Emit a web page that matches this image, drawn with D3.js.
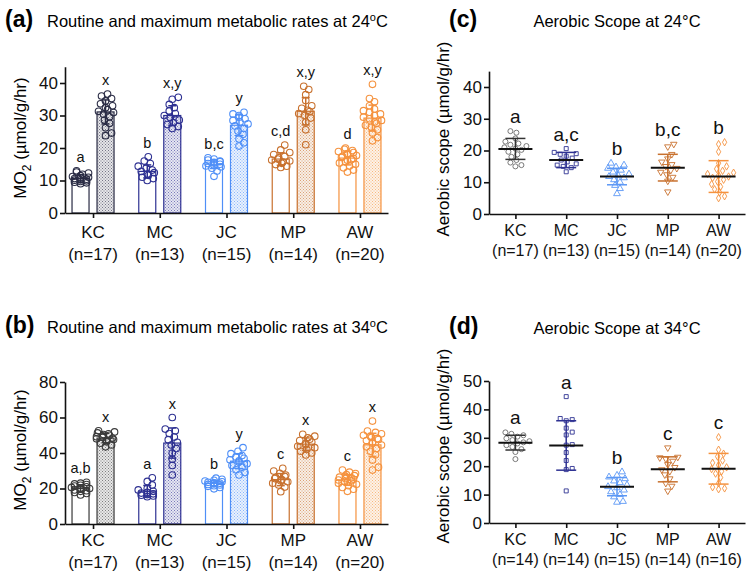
<!DOCTYPE html>
<html><head><meta charset="utf-8">
<script src="https://cdn.jsdelivr.net/npm/d3@7"></script>
<style>body{margin:0;background:#fff}svg{font-family:"Liberation Sans",Arial,sans-serif}</style>
</head><body><svg id="c" width="754" height="581"></svg>
<script>
// ---------- data ----------
const categories = ["KC","MC","JC","MP","AW"];
const nLabelsABC = ["(n=17)","(n=13)","(n=15)","(n=14)","(n=20)"];
const nLabelsD   = ["(n=14)","(n=14)","(n=15)","(n=14)","(n=16)"];
const ticksA = [0,10,20,30,40];
const ticksB = [0,20,40,60,80];
const ticksC = [0,10,20,30,40];
const ticksD = [0,10,20,30,40,50];

// panel a: routine (open) and maximum (patterned) MO2 at 24C
const a_routine_pts = [
  [9.0,9.3,9.5,9.7,9.9,10.1,10.2,10.4,10.6,10.8,11.0,11.2,11.5,11.9,12.3,12.6,13.0],
  [10.0,10.6,11.0,11.6,12.0,12.4,12.8,13.2,13.8,14.4,15.2,16.0,17.3],
  [11.3,12.9,13.8,14.2,14.5,14.8,15.0,15.2,15.4,15.6,15.8,16.0,16.3,16.6,17.0],
  [14.0,14.4,14.9,15.3,15.7,16.0,16.3,16.6,17.0,17.4,18.0,18.6,19.4,20.9],
  [12.6,13.2,13.9,14.5,15.0,15.4,15.8,16.2,16.5,16.8,17.1,17.4,17.7,18.0,18.3,18.6,18.9,19.2,19.6,20.0]
];
const a_routine_mean = [10.6,12.8,15.0,16.6,16.9];
const a_routine_sd   = [1.2,2.0,1.3,1.9,2.1];
const a_max_pts = [
  [23.8,24.6,26.2,27.6,28.6,29.6,30.4,30.9,31.3,31.8,32.4,33.0,33.6,34.5,35.2,36.0,36.6],
  [26.0,26.6,27.2,27.8,28.6,29.4,30.0,30.6,31.4,32.4,33.4,35.0,35.6],
  [20.6,21.6,22.8,24.2,25.2,26.0,26.8,27.4,28.0,28.5,29.0,29.5,30.0,30.5,31.0],
  [21.0,25.6,28.0,29.2,30.0,30.6,31.2,31.6,32.2,33.0,34.6,36.4,38.0,39.0],
  [22.2,23.2,24.6,25.6,26.4,27.0,27.6,28.0,28.5,29.0,29.5,30.0,30.5,31.0,31.5,32.0,33.0,34.2,35.2,39.6]
];
const a_max_mean = [31.1,30.0,27.0,31.3,29.2];
const a_max_sd   = [3.7,3.0,3.2,4.2,4.0];
const a_routine_letters = ["a","b","b,c","c,d","d"];
const a_max_letters     = ["x","x,y","y","x,y","x,y"];

// panel b: routine and maximum MO2 at 34C
const b_routine_pts = [
  [16.4,17.2,17.8,18.4,18.8,19.2,19.6,20.0,20.3,20.6,21.0,21.4,21.8,22.2,22.6,23.0,23.5],
  [15.4,15.8,16.2,16.6,17.0,17.4,17.8,18.4,19.2,20.0,22.0,24.0,26.0],
  [19.8,20.6,21.2,21.6,22.0,22.3,22.6,22.9,23.2,23.5,23.8,24.2,24.6,25.2,25.8],
  [18.2,20.8,22.0,23.0,23.8,24.4,25.0,25.6,26.2,26.8,27.6,28.6,29.8,31.4],
  [18.4,19.6,20.6,21.6,22.4,23.0,23.6,24.0,24.4,24.8,25.2,25.6,26.0,26.4,26.8,27.2,27.8,28.4,29.2,30.4]
];
const b_routine_mean = [20.1,18.5,22.9,25.0,24.8];
const b_routine_sd   = [2.0,3.2,1.7,3.4,3.0];
const b_max_pts = [
  [43.5,44.5,45.5,46.3,47.0,47.6,48.0,48.4,48.8,49.2,49.6,50.0,50.4,50.8,51.3,51.9,52.5],
  [27.6,33.0,36.5,40.0,42.5,44.5,46.0,47.5,49.0,51.0,52.5,53.5,60.0],
  [27.6,29.0,30.5,32.0,33.0,34.0,35.0,35.6,36.2,37.0,37.8,38.6,39.6,41.0,43.0],
  [38.9,40.0,41.0,42.0,43.0,43.8,44.6,45.4,46.2,47.0,47.8,48.6,49.5,50.5],
  [30.4,32.0,36.0,39.0,41.0,42.5,43.5,44.5,45.5,46.2,47.0,47.6,48.2,48.8,49.4,50.0,50.8,51.6,52.4,58.0]
];
const b_max_mean = [48.4,45.6,35.4,45.0,44.6];
const b_max_sd   = [2.6,8.5,4.2,3.5,6.5];
const b_routine_letters = ["a,b","a","b","c","c"];
const b_max_letters     = ["x","x","y","x","x"];

// panel c: aerobic scope at 24C
const c_pts = [
  [15.0,15.4,16.2,17.0,18.0,18.8,19.6,20.2,20.6,21.0,21.4,21.8,22.2,22.8,23.8,25.6,26.1],
  [13.3,14.6,15.0,15.4,15.8,16.4,17.0,17.6,18.2,18.8,19.0,19.4,20.6],
  [6.4,8.0,9.0,10.0,10.8,11.4,11.8,12.2,12.6,13.2,13.8,14.4,14.8,15.4,16.0],
  [7.0,10.4,11.6,12.4,13.2,13.8,14.4,15.0,15.6,16.4,17.4,18.8,21.2,22.0],
  [5.0,5.6,6.8,7.8,8.6,9.4,10.2,10.8,11.4,11.8,12.2,12.6,13.0,13.6,14.2,15.0,16.0,19.6,22.0,22.6]
];
const c_mean = [20.5,17.0,11.8,14.6,11.8];
const c_sd   = [3.3,2.4,2.6,4.2,5.0];
const c_letters = ["a","a,c","b","b,c","b"];

// panel d: aerobic scope at 34C
const d_pts = [
  [22.5,25.0,26.0,26.8,27.4,28.0,28.4,28.8,29.2,29.8,30.4,30.9,31.4,31.9],
  [11.3,18.8,19.2,22.0,24.8,27.4,27.6,31.0,32.0,33.4,36.0,36.4,36.8,44.5],
  [7.3,7.6,9.2,10.0,11.0,11.6,12.4,12.8,13.4,14.2,14.8,15.6,16.2,16.8,18.0],
  [11.3,13.0,14.0,15.6,17.0,18.2,18.8,19.6,20.6,21.8,22.6,23.0,23.2,26.5],
  [11.9,12.2,12.6,14.0,16.0,17.4,18.2,19.0,19.6,20.4,21.2,22.0,23.4,24.4,25.8,30.2]
];
const d_mean = [28.3,27.3,12.8,18.9,19.1];
const d_sd   = [2.6,8.7,3.2,4.4,5.4];
const d_letters = ["a","a","b","c","c"];

// ---------- styles ----------
const colBar = ["#2a2c45","#2e3192","#4f8ff7","#c8712e","#f5923e"];
const colBarB = ["#3a3a3a","#2e3192","#4f8ff7","#c8712e","#f5923e"];
const colScat = ["#6b6b6b","#2e3192","#5b97f5","#c8712e","#f5923e"];
const shapes = [d3.symbolCircle, d3.symbolSquare, d3.symbolTriangle, "tri-down", d3.symbolDiamond];

const svg = d3.select("#c");
const defs = svg.append("defs");
function patternFor(col, id) {
  const p = defs.append("pattern").attr("id", id).attr("patternUnits","userSpaceOnUse")
    .attr("width",3).attr("height",3);
  p.append("rect").attr("width",3).attr("height",3).attr("fill","#fff");
  p.append("rect").attr("x",0).attr("y",0).attr("width",1).attr("height",1).attr("fill",col).attr("opacity",0.6);
  p.append("rect").attr("x",1.5).attr("y",1.5).attr("width",1).attr("height",1).attr("fill",col).attr("opacity",0.6);
  p.append("rect").attr("x",0).attr("y",0).attr("width",3).attr("height",3).attr("fill",col).attr("opacity",0.12);
  return "url(#"+id+")";
}

function swarm(vals, y, r, maxW) {
  const placed = [];
  const out = new Array(vals.length);
  const order = vals.map((v,i)=>i).sort((a,b)=>vals[a]-vals[b]);
  const d2 = (2*r*0.85)**2;
  for (const i of order) {
    const py = y(vals[i]);
    let bestCnt = 1e9, bestOff = 0;
    for (let k=0;k<=2*maxW;k++) {
      const off = k===0 ? 0 : (k%2 ? (k+1)/2 : -k/2);
      let cnt = 0;
      for (const p of placed) { const dx=off-p.x, dy=py-p.y; if (dx*dx+dy*dy<d2) cnt++; }
      if (cnt===0) { bestOff = off; bestCnt = 0; break; }
      if (cnt<bestCnt) { bestCnt=cnt; bestOff=off; }
    }
    placed.push({x:bestOff,y:py});
    out[i] = {x:bestOff,y:py};
  }
  return out;
}

function titleBlock(letter, lx, text, tx, ty, anchor, degree) {
  svg.append("text").attr("x",lx).attr("y",ty).attr("font-size",23).attr("font-weight","bold").text(letter);
  const t = svg.append("text").attr("x",tx).attr("y",ty).attr("font-size",16.5).attr("text-anchor",anchor);
  if (degree) {
    t.append("tspan").text(text);
    t.append("tspan").attr("font-size",11).attr("dy",-6).text("o");
    t.append("tspan").attr("dy",6).text("C");
  } else t.text(text);
}

function yLabel(x, y, parts) {
  const t = svg.append("text").attr("transform",`translate(${x},${y}) rotate(-90)`)
    .attr("text-anchor","middle").attr("font-size",17);
  parts(t);
}

function axes(x, y, ticks, x0, y0, nLabels, lab1, lab2, tickFont, labFont) {
  const ya = svg.append("g").attr("transform",`translate(${x0},0)`)
    .call(d3.axisLeft(y).tickValues(ticks).tickSize(5).tickSizeOuter(0).tickPadding(2));
  ya.selectAll("text").attr("font-size",tickFont).attr("fill","#111").attr("font-family","Liberation Sans, Arial, sans-serif");
  ya.selectAll("line,path").attr("stroke","#111").attr("stroke-width",1.6);
  const xa = svg.append("g").attr("transform",`translate(0,${y0})`)
    .call(d3.axisBottom(x).tickSize(5).tickSizeOuter(0).tickFormat(""));
  xa.selectAll("line,path").attr("stroke","#111").attr("stroke-width",1.6);
  categories.forEach((c,i)=>{
    svg.append("text").attr("x",x(c)).attr("y",lab1).attr("text-anchor","middle").attr("font-size",labFont).attr("fill","#111").text(c);
    svg.append("text").attr("x",x(c)).attr("y",lab2).attr("text-anchor","middle").attr("font-size",labFont).attr("fill","#111").text(nLabels[i]);
  });
}

function barPanel(cfg) {
  const x = d3.scalePoint().domain(categories).range([cfg.x0, cfg.x1]).padding(0.42);
  const y = d3.scaleLinear().domain([0, cfg.ymax]).range([cfg.y0, cfg.ytop]);
  const bw = 17, off = 12.5;
  const series = [
    {pts:cfg.rp, mean:cfg.rm, sd:cfg.rs, letters:cfg.rl, dx:-off, pat:false},
    {pts:cfg.mp, mean:cfg.mm, sd:cfg.ms, letters:cfg.ml, dx:off, pat:true}
  ];
  series.forEach((s)=>{
    categories.forEach((c,i)=>{
      const col = cfg.cols[i];
      const cx = x(c)+s.dx;
      const m = s.mean[i], sd = s.sd[i];
      svg.append("rect").attr("x",cx-bw/2).attr("y",y(m)).attr("width",bw)
        .attr("height",y(0)-y(m))
        .attr("fill", s.pat ? patternFor(col, `p${cfg.id}${i}`) : "#fff")
        .attr("stroke",col).attr("stroke-width",1.2);
      const sw = swarm(s.pts[i], y, 3.4, 9);
      s.pts[i].forEach((v,j)=>{
        svg.append("circle").attr("cx",cx+sw[j].x).attr("cy",sw[j].y).attr("r",3.3)
          .attr("fill","none").attr("stroke",col).attr("stroke-width",1.1);
      });
      const g = svg.append("g").attr("stroke",col).attr("stroke-width",1.5);
      g.append("line").attr("x1",cx).attr("x2",cx).attr("y1",y(m-sd)).attr("y2",y(m+sd));
      g.append("line").attr("x1",cx-4).attr("x2",cx+4).attr("y1",y(m+sd)).attr("y2",y(m+sd));
      g.append("line").attr("x1",cx-4).attr("x2",cx+4).attr("y1",y(m-sd)).attr("y2",y(m-sd));
      const top = Math.min(y(d3.max(s.pts[i])), y(m+sd));
      svg.append("text").attr("x",cx).attr("y",top-9).attr("text-anchor","middle")
        .attr("font-size",14.5).attr("fill","#111").text(s.letters[i]);
    });
  });
  axes(x, y, cfg.ticks, cfg.x0, cfg.y0, nLabelsABC, cfg.lab1, cfg.lab2, 17, 17);
}

function scatterPanel(cfg) {
  const x = d3.scalePoint().domain(categories).range([cfg.x0, cfg.x1]).padding(0.52);
  const y = d3.scaleLinear().domain([0, cfg.ymax]).range([cfg.y0, cfg.ytop]);
  categories.forEach((c,i)=>{
    const col = colScat[i];
    const cx = x(c);
    const sw = swarm(cfg.pts[i], y, 3.4, 15);
    cfg.pts[i].forEach((v,j)=>{
      const px = cx+sw[j].x, py = sw[j].y;
      let path;
      if (shapes[i]==="tri-down") path = d3.symbol(d3.symbolTriangle, 18)();
      else path = d3.symbol(shapes[i], shapes[i]===d3.symbolSquare?16:(shapes[i]===d3.symbolDiamond?16:20))();
      svg.append("path").attr("d",path)
        .attr("transform",`translate(${px},${py})` + (shapes[i]==="tri-down"?" rotate(180)":""))
        .attr("fill","none").attr("stroke",col).attr("stroke-width",0.9);
    });
    const m = cfg.mean[i], s = cfg.sd[i];
    const g = svg.append("g").attr("stroke", i===0 ? "#333" : col).attr("stroke-width",1.5);
    g.append("line").attr("x1",cx).attr("x2",cx).attr("y1",y(m-s)).attr("y2",y(m+s));
    g.append("line").attr("x1",cx-10).attr("x2",cx+10).attr("y1",y(m+s)).attr("y2",y(m+s));
    g.append("line").attr("x1",cx-10).attr("x2",cx+10).attr("y1",y(m-s)).attr("y2",y(m-s));
    svg.append("line").attr("x1",cx-17).attr("x2",cx+17).attr("y1",y(m)).attr("y2",y(m))
      .attr("stroke","#111").attr("stroke-width",2);
    const top = y(d3.max(cfg.pts[i]));
    svg.append("text").attr("x",cx).attr("y",top-8).attr("text-anchor","middle")
      .attr("font-size",19).attr("fill","#111").text(cfg.letters[i]);
  });
  axes(x, y, cfg.ticks, cfg.x0, cfg.y0, cfg.nl, cfg.lab1, cfg.lab2, 17, 16);
}

// ---------- panels ----------
titleBlock("(a)", 5, "Routine and maximum metabolic rates at 24", 47, 27, "start", true);
titleBlock("(b)", 5, "Routine and maximum metabolic rates at 34", 47, 333, "start", true);
titleBlock("(c)", 449, "Aerobic Scope at 24°C", 617, 27, "middle", false);
titleBlock("(d)", 449, "Aerobic Scope at 34°C", 617, 334, "middle", false);

const moLabel = t => { t.append("tspan").text("MO"); t.append("tspan").attr("font-size",12).attr("dy",5).text("2");
  t.append("tspan").attr("dy",-5).text(" (\u00b5mol/g/hr)"); };
yLabel(26, 138, moLabel);
yLabel(26, 450, moLabel);
const asLabel = t => t.text("Aerobic scope (\u00b5mol/g/hr)");
yLabel(449, 139, asLabel);
yLabel(449, 446, asLabel);

barPanel({id:"a", x0:65, x1:388, y0:213, ytop:213-45*3.25, ymax:45, ticks:ticksA,
  rp:a_routine_pts, rm:a_routine_mean, rs:a_routine_sd, rl:a_routine_letters,
  mp:a_max_pts, mm:a_max_mean, ms:a_max_sd, ml:a_max_letters, cols:colBar, lab1:238, lab2:260});
barPanel({id:"b", x0:65, x1:388, y0:524, ytop:382, ymax:80, ticks:ticksB,
  rp:b_routine_pts, rm:b_routine_mean, rs:b_routine_sd, rl:b_routine_letters,
  mp:b_max_pts, mm:b_max_mean, ms:b_max_sd, ml:b_max_letters, cols:colBarB, lab1:546, lab2:568});
scatterPanel({x0:489, x1:745, y0:214, ytop:214-45*3.175, ymax:45, ticks:ticksC, pts:c_pts, mean:c_mean, sd:c_sd,
  letters:c_letters, nl:nLabelsABC, lab1:236, lab2:256});
scatterPanel({x0:489, x1:745, y0:523, ytop:381, ymax:50, ticks:ticksD, pts:d_pts, mean:d_mean, sd:d_sd,
  letters:d_letters, nl:nLabelsD, lab1:545, lab2:565});
</script></body></html>
